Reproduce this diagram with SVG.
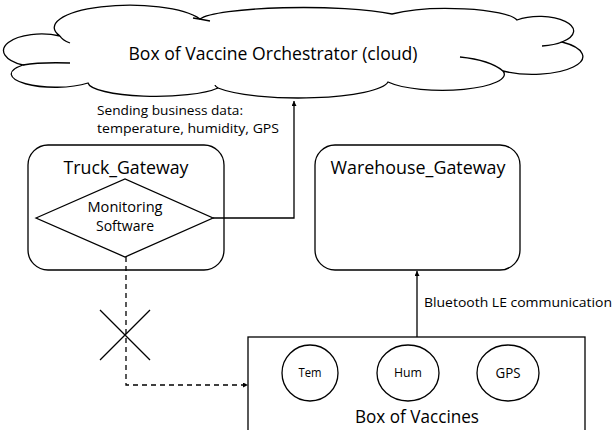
<svg xmlns="http://www.w3.org/2000/svg" width="615" height="430" viewBox="0 0 615 430">
<style>
.ln{fill:none;stroke:#000;stroke-width:1.3}
.box{fill:#fff;stroke:#000;stroke-width:1.3}
.t{font-family:"Open Sans","Liberation Sans",Arial,sans-serif;fill:#000}
.c{text-anchor:middle}
</style>
<defs>
<marker id="ah" viewBox="0 0 10 10" refX="10" refY="5" markerWidth="5" markerHeight="5" orient="auto" markerUnits="userSpaceOnUse">
<path d="M0,0 L10,5 L0,10 z" fill="#000"/>
</marker>
</defs>
<rect width="615" height="430" fill="#fff"/>
<g id="cloud">
<path class="box" stroke-width="1.1" d="M23,65 A32,14 0 0 1 60,36 A75,22 0 0 1 200,19 A105,14 0 0 1 392,14 A70,14 0 0 1 517,20 A28,12 0 0 1 562,42 A45,16 0 0 1 503,71 A62,16 0 0 1 388,82 A90,18 0 0 1 218,88 A68,14 0 0 1 88,83 A40,12 0 0 1 23,65 Z"/>
<path class="ln" stroke-width="1.1" d="M60,36 Q62,40 70,43 M23,65 Q40,62 70,63 M193,18 Q200,19 210,21 M218,88 Q215,86 215,85 M503,71 Q490,60 460,57 M562,42 Q555,45 542,46"/>
<text class="t c" x="273" y="60" font-size="18" textLength="289" lengthAdjust="spacingAndGlyphs">Box of Vaccine Orchestrator (cloud)</text>
</g>
<g id="truck_gateway">
<rect class="box" x="28" y="145" width="196" height="125" rx="20" ry="20"/>
<text class="t c" x="126" y="174" font-size="18" textLength="125" lengthAdjust="spacingAndGlyphs">Truck_Gateway</text>
</g>
<g id="monitoring_software">
<polygon class="box" points="36,218 125,179 213,218 125,257"/>
<text class="t c" x="125" y="212" font-size="14" textLength="75" lengthAdjust="spacingAndGlyphs">Monitoring</text>
<text class="t c" x="125" y="231" font-size="14" textLength="58" lengthAdjust="spacingAndGlyphs">Software</text>
</g>
<g id="warehouse_gateway">
<rect class="box" x="315" y="145" width="205" height="125" rx="20" ry="20"/>
<text class="t c" x="418" y="174" font-size="18" textLength="175" lengthAdjust="spacingAndGlyphs">Warehouse_Gateway</text>
</g>
<g id="box_of_vaccines">
<rect class="box" x="248" y="337" width="337" height="110"/>
<ellipse class="box" cx="310" cy="373" rx="28" ry="28"/>
<ellipse class="box" cx="408" cy="373" rx="31" ry="28"/>
<ellipse class="box" cx="508" cy="373" rx="31" ry="28"/>
<text class="t c" x="310" y="377" font-size="12" textLength="23" lengthAdjust="spacingAndGlyphs">Tem</text>
<text class="t c" x="408" y="377" font-size="12" textLength="28" lengthAdjust="spacingAndGlyphs">Hum</text>
<text class="t c" x="508" y="378" font-size="14" textLength="25" lengthAdjust="spacingAndGlyphs">GPS</text>
<text class="t c" x="417" y="423" font-size="18" textLength="124" lengthAdjust="spacingAndGlyphs">Box of Vaccines</text>
</g>
<g id="connectors">
<polyline class="ln" points="213,218 294,218 294,101" marker-end="url(#ah)" stroke-width="1.6"/>
<text class="t" x="97" y="115" font-size="13.5" textLength="146" lengthAdjust="spacingAndGlyphs">Sending business data:</text>
<text class="t" x="97" y="133" font-size="13.5" textLength="182" lengthAdjust="spacingAndGlyphs">temperature, humidity, GPS</text>
<line class="ln" x1="417" y1="337" x2="417" y2="271" marker-end="url(#ah)" stroke-width="1.8"/>
<text class="t" x="424" y="307" font-size="13.5" textLength="188" lengthAdjust="spacingAndGlyphs">Bluetooth LE communication</text>
<polyline class="ln" points="126,257 126,385 248,385" stroke-dasharray="5,4" marker-end="url(#ah)"/>
<path class="ln" d="M100,310 L150,360 M150,310 L100,360" stroke-width="2"/>
</g>
</svg>
